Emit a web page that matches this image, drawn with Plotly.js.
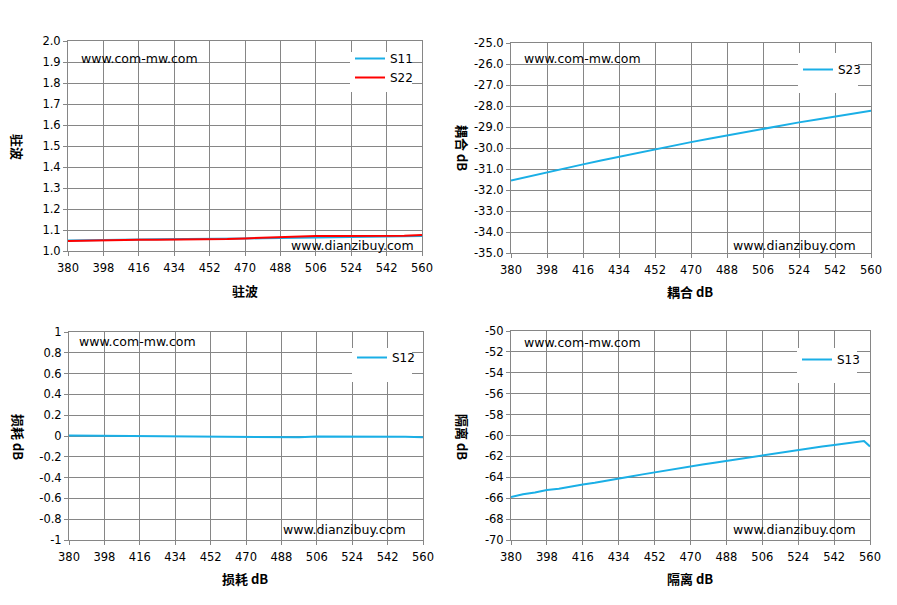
<!DOCTYPE html>
<html>
<head>
<meta charset="utf-8">
<script src="https://cdn.plot.ly/plotly-3.0.1.min.js"></script>
<style>
  body { margin: 0; background: #fff; }
  #chart { width: 897px; height: 605px; }
</style>
</head>
<body>
<div id="chart"></div>
<script>
// frequency (MHz)
const freq = [380, 389, 398, 407, 416, 425, 434, 443, 452, 461, 470,
              479, 488, 497, 506, 515, 524, 533, 542, 551, 560];

// VSWR
const s11 = [1.050, 1.052, 1.053, 1.054, 1.055, 1.056, 1.056, 1.056, 1.057, 1.058, 1.059,
             1.061, 1.063, 1.064, 1.065, 1.066, 1.067, 1.068, 1.069, 1.070, 1.071];
const s22 = [1.048, 1.050, 1.052, 1.053, 1.054, 1.054, 1.054, 1.054, 1.055, 1.057, 1.060,
             1.063, 1.067, 1.069, 1.071, 1.072, 1.072, 1.072, 1.072, 1.073, 1.076];

// coupling dB
const s23 = [-31.55, -31.35, -31.15, -30.96, -30.78, -30.60, -30.42, -30.23, -30.05, -29.88, -29.72,
             -29.56, -29.40, -29.24, -29.08, -28.93, -28.78, -28.64, -28.50, -28.36, -28.22];

// insertion loss dB
const s12 = [0.005, 0.004, 0.002, -0.002, -0.004, -0.004, -0.005, -0.005, -0.005, -0.008, -0.010,
             -0.012, -0.013, -0.012, -0.006, -0.005, -0.005, -0.005, -0.006, -0.008, -0.012];

// isolation dB
const freq13 = [380, 386, 392, 398, 404, 410, 416, 422, 428, 434, 440, 446, 452, 458, 464, 470,
                476, 482, 488, 494, 500, 506, 512, 518, 524, 530, 536, 542, 548, 554, 557, 560];
const s13 = [-65.90, -65.62, -65.45, -65.22, -65.10, -64.88, -64.68, -64.52, -64.30, -64.08, -63.92,
             -63.72, -63.52, -63.35, -63.12, -62.95, -62.78, -62.60, -62.42, -62.25, -62.08, -61.90,
             -61.72, -61.52, -61.35, -61.20, -61.05, -60.90, -60.75, -60.58, -60.52, -61.05];

// tick labels
const xTicks = [380, 398, 416, 434, 452, 470, 488, 506, 524, 542, 560];
const vswrTicks = [1.0, 1.1, 1.2, 1.3, 1.4, 1.5, 1.6, 1.7, 1.8, 1.9, 2.0];
const vswrText = ["1.0", "1.1", "1.2", "1.3", "1.4", "1.5", "1.6", "1.7", "1.8", "1.9", "2.0"];
const coupTicks = [-35, -34, -33, -32, -31, -30, -29, -28, -27, -26, -25];
const coupText = ["-35.0", "-34.0", "-33.0", "-32.0", "-31.0", "-30.0", "-29.0", "-28.0", "-27.0", "-26.0", "-25.0"];
const lossTicks = [-1, -0.8, -0.6, -0.4, -0.2, 0, 0.2, 0.4, 0.6, 0.8, 1];
const lossText = ["-1", "-0.8", "-0.6", "-0.4", "-0.2", "0", "0.2", "0.4", "0.6", "0.8", "1"];
const isoTicks = [-70, -68, -66, -64, -62, -60, -58, -56, -54, -52, -50];
const isoText = ["-70", "-68", "-66", "-64", "-62", "-60", "-58", "-56", "-54", "-52", "-50"];

const W = 897, H = 605;
const px = (x) => x / W;
const py = (y) => 1 - y / H;

const BLUE = "#1aafe6";
const RED = "#ff0000";
const GRID = "#868686";
const tickFont = { family: "DejaVu Sans", size: 11.5, color: "#000" };
const titleFont = { family: "Noto Sans CJK SC", size: 13, color: "#000", weight: "bold" };
const wmFont = { family: "DejaVu Sans", size: 12.5, color: "#000" };

function xAxis(left, right, anchor) {
  return {
    domain: [px(left), px(right)], anchor: anchor,
    range: [380, 560], tickvals: xTicks, ticks: "outside", ticklen: 4, tickcolor: GRID,
    ticklabelstandoff: 2,
    showgrid: true, gridcolor: GRID, gridwidth: 1, showline: true, linecolor: GRID,
    mirror: true, zeroline: false, tickfont: tickFont, fixedrange: true
  };
}
function yAxis(top, bottom, anchor, range, vals, text) {
  return {
    domain: [py(bottom), py(top)], anchor: anchor,
    range: range, tickvals: vals, ticktext: text, ticks: "outside", ticklen: 4, tickcolor: GRID,
    showgrid: true, gridcolor: GRID, gridwidth: 1, showline: true, linecolor: GRID,
    mirror: true, zeroline: false, tickfont: tickFont, fixedrange: true
  };
}

const traces = [
  { x: freq, y: s11, name: "S11", xaxis: "x", yaxis: "y", mode: "lines",
    line: { color: BLUE, width: 2 }, legend: "legend" },
  { x: freq, y: s22, name: "S22", xaxis: "x", yaxis: "y", mode: "lines",
    line: { color: RED, width: 2 }, legend: "legend" },
  { x: freq, y: s23, name: "S23", xaxis: "x2", yaxis: "y2", mode: "lines",
    line: { color: BLUE, width: 2 }, legend: "legend2" },
  { x: freq, y: s12, name: "S12", xaxis: "x3", yaxis: "y3", mode: "lines",
    line: { color: BLUE, width: 2 }, legend: "legend3" },
  { x: freq13, y: s13, name: "S13", xaxis: "x4", yaxis: "y4", mode: "lines",
    line: { color: BLUE, width: 2 }, legend: "legend4" }
];

function legendAt(left, top) {
  return {
    x: px(left), y: py(top), xanchor: "left", yanchor: "top",
    bgcolor: "rgba(0,0,0,0)", borderwidth: 0,
    font: { family: "DejaVu Sans", size: 12, color: "#000" }
  };
}

function legendBox(l, t, r, b) {
  return { type: "rect", xref: "paper", yref: "paper", layer: "above",
    x0: px(l), x1: px(r), y0: py(b), y1: py(t),
    fillcolor: "#fff", line: { width: 0 } };
}

function txt(text, x, y, xanchor, font, angle) {
  return { text: text, x: px(x), y: py(y), xref: "paper", yref: "paper",
    xanchor: xanchor, yanchor: "middle", showarrow: false, font: font,
    textangle: angle || 0 };
}

const layout = {
  width: W, height: H,
  margin: { l: 0, r: 0, t: 0, b: 0 },
  paper_bgcolor: "#fff", plot_bgcolor: "#fff",
  showlegend: true,
  xaxis: xAxis(68, 422, "y"),
  yaxis: yAxis(41, 251, "x", [1.0, 2.0], vswrTicks, vswrText),
  xaxis2: xAxis(511, 871, "y2"),
  yaxis2: yAxis(43, 253, "x2", [-35, -25], coupTicks, coupText),
  xaxis3: xAxis(69, 423, "y3"),
  yaxis3: yAxis(332, 540, "x3", [-1, 1], lossTicks, lossText),
  xaxis4: xAxis(511, 870, "y4"),
  yaxis4: yAxis(331, 540, "x4", [-70, -50], isoTicks, isoText),
  legend: legendAt(350, 44),
  legend2: legendAt(798, 55),
  legend3: legendAt(352, 343),
  legend4: legendAt(797, 345),
  shapes: [
    legendBox(350, 52, 412, 92),
    legendBox(798, 53, 858, 93),
    legendBox(352, 348, 412, 382),
    legendBox(797, 348, 857, 383)
  ],
  annotations: [
    txt("www.com-mw.com", 79, 59, "left", wmFont),
    txt("www.dianzibuy.com", 416, 246, "right", wmFont),
    txt("www.com-mw.com", 522, 59, "left", wmFont),
    txt("www.dianzibuy.com", 858, 246, "right", wmFont),
    txt("www.com-mw.com", 77, 341, "left", wmFont),
    txt("www.dianzibuy.com", 408, 529, "right", wmFont),
    txt("www.com-mw.com", 522, 342, "left", wmFont),
    txt("www.dianzibuy.com", 858, 529, "right", wmFont),

    txt("驻波", 245, 290, "center", titleFont),
    txt("耦合 dB", 690, 291, "center", titleFont),
    txt("损耗 dB", 245, 578, "center", titleFont),
    txt("隔离 dB", 690, 578, "center", titleFont),

    txt("驻波", 18, 147, "center", titleFont, 90),
    txt("耦合 dB", 462, 148, "center", titleFont, 90),
    txt("损耗 dB", 18, 437, "center", titleFont, 90),
    txt("隔离 dB", 462, 437, "center", titleFont, 90)
  ]
};

Plotly.newPlot("chart", traces, layout, { displayModeBar: false, staticPlot: true });
</script>
</body>
</html>
